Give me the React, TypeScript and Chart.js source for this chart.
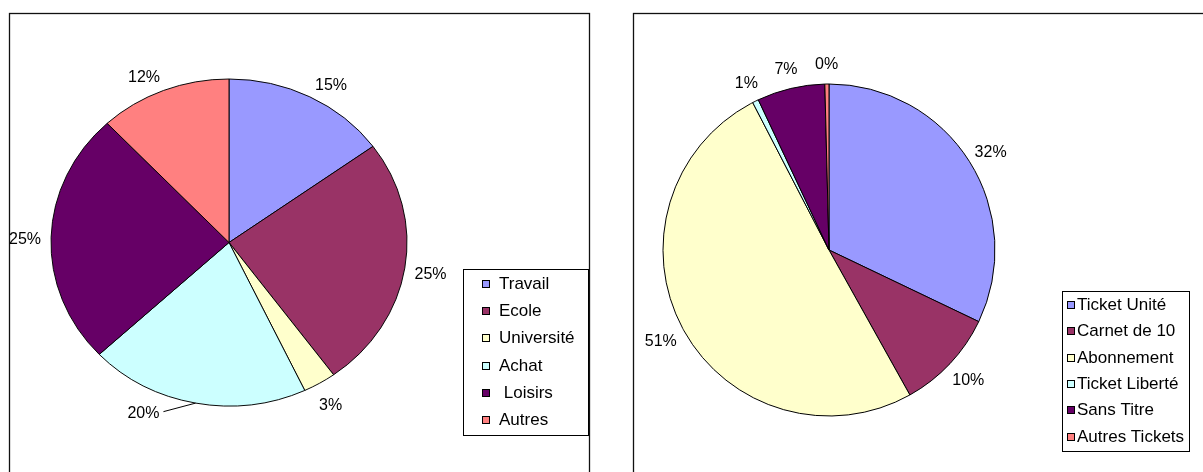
import React, { useEffect, useRef } from 'react';
import { Chart, ArcElement, PieController } from 'chart.js';

Chart.register(ArcElement, PieController);

// ---- data ----
const purposeLabels = ['Travail', 'Ecole', 'Université', 'Achat', ' Loisirs', 'Autres'];
const purposeValues = [15, 25, 3, 20, 25, 12];

const ticketLabels = ['Ticket Unité', 'Carnet de 10', 'Abonnement', 'Ticket Liberté', 'Sans Titre', 'Autres Tickets'];
const ticketValues = [32.1, 9.8, 50.5, 0.6, 6.6, 0.4];

const palette = ['#9999FF', '#993366', '#FFFFCC', '#CCFFFF', '#660066', '#FF8080'];

const LABEL_SIZE = 16;
const LEGEND_SIZE = 17;
const fontOf = (s: number) => `${s}px "Liberation Sans", Arial, sans-serif`;

const excelPie = {
  id: 'excelPie',
  beforeDraw(chart: any, _args: any, opts: any) {
    const ctx = chart.ctx;
    ctx.save();
    ctx.fillStyle = '#ffffff';
    ctx.fillRect(0, 0, chart.width, chart.height);
    ctx.strokeStyle = '#111111';
    ctx.lineWidth = 1.3;
    const f = opts.frame;
    ctx.strokeRect(f.x, f.y, f.w, f.h);
    ctx.restore();
  },
  beforeDatasetsDraw(chart: any, _args: any, opts: any) {
    const ctx = chart.ctx;
    const arc = chart.getDatasetMeta(0).data[0];
    ctx.save();
    if (arc && opts.squash !== 1) {
      ctx.translate(arc.x, arc.y);
      ctx.scale(1, opts.squash);
      ctx.translate(-arc.x, -arc.y);
    }
  },
  afterDatasetsDraw(chart: any, _args: any, opts: any) {
    const ctx = chart.ctx;
    ctx.restore();
    const meta = chart.getDatasetMeta(0);
    const values: number[] = chart.data.datasets[0].data;
    const total = values.reduce((a, b) => a + b, 0);
    const capH = LABEL_SIZE * 0.716;
    ctx.save();
    ctx.font = fontOf(LABEL_SIZE);
    ctx.fillStyle = '#000000';
    ctx.strokeStyle = '#000000';
    ctx.lineWidth = 1;
    ctx.textAlign = 'center';
    ctx.textBaseline = 'alphabetic';
    meta.data.forEach((el: any, i: number) => {
      const p = el.getProps(['x', 'y', 'startAngle', 'endAngle', 'outerRadius'], true);
      const rx = p.outerRadius;
      const ry = p.outerRadius * opts.squash;
      const mid = (p.startAngle + p.endAngle) / 2;
      const shift = opts.moved && opts.moved[i] !== undefined ? (opts.moved[i] * Math.PI) / 180 : 0;
      const a = mid + shift;
      const dx = Math.cos(a);
      const dy = Math.sin(a);
      const text = Math.round((values[i] / total) * 100) + '%';
      const w = ctx.measureText(text).width;
      const lx = p.x + (rx + opts.gapX) * dx + (dx * w) / 2;
      const ly = p.y + (ry + opts.gapY) * dy + (dy * (capH + 2)) / 2 + opts.dropY;
      ctx.fillText(text, lx, ly + capH / 2);
      if (opts.leader && opts.leader[i]) {
        ctx.beginPath();
        ctx.moveTo(lx + w / 2 + 4, ly - 1);
        ctx.lineTo(p.x + rx * Math.cos(mid), p.y + ry * Math.sin(mid));
        ctx.stroke();
      }
    });

    // legend
    const L = opts.legend;
    const labels: string[] = chart.data.labels;
    const colors: string[] = chart.data.datasets[0].backgroundColor;
    const lcap = LEGEND_SIZE * 0.716;
    ctx.font = fontOf(LEGEND_SIZE);
    ctx.lineWidth = 1;
    ctx.strokeRect(L.x + 0.5, L.y + 0.5, L.w, L.h);
    ctx.textAlign = 'left';
    labels.forEach((lab, i) => {
      const cy = L.firstY + i * L.step;
      const mx = Math.round(L.markerX);
      const my = Math.round(cy - L.marker / 2);
      ctx.fillStyle = colors[i];
      ctx.fillRect(mx, my, L.marker, L.marker);
      ctx.strokeStyle = '#000000';
      ctx.strokeRect(mx + 0.5, my + 0.5, L.marker - 1, L.marker - 1);
      ctx.fillStyle = '#000000';
      ctx.fillText(lab, L.textX, cy + lcap / 2 - 1);
    });
    ctx.restore();
  },
};

function PieBox(props: {
  labels: string[];
  values: number[];
  width: number;
  left: number;
  padding: { left: number; right: number; top: number; bottom: number };
  plugin: any;
}) {
  const ref = useRef<HTMLCanvasElement | null>(null);
  useEffect(() => {
    if (!ref.current) return;
    const chart = new Chart(ref.current, {
      type: 'pie',
      data: {
        labels: props.labels,
        datasets: [
          {
            data: props.values,
            backgroundColor: palette,
            borderColor: '#000000',
            borderWidth: 1,
          },
        ],
      },
      options: {
        responsive: false,
        animation: false,
        layout: { padding: props.padding },
        plugins: {
          legend: { display: false },
          tooltip: { enabled: false },
          excelPie: props.plugin,
        } as any,
      },
      plugins: [excelPie],
    });
    return () => chart.destroy();
  }, []);
  return (
    <canvas
      ref={ref}
      width={props.width}
      height={472}
      style={{ position: 'absolute', left: props.left, top: 0, width: props.width, height: 472, display: 'block' }}
    />
  );
}

export default function App() {
  return (
    <div style={{ position: 'fixed', left: 0, top: 0, width: 1203, height: 472, background: '#fff', overflow: 'hidden' }}>
      <PieBox
        labels={purposeLabels}
        values={purposeValues}
        width={611}
        left={0}
        padding={{ left: 50.5, right: 203.5, top: 64, bottom: 51 }}
        plugin={{
          frame: { x: 9.5, y: 13.5, w: 580, h: 480 },
          squash: 163.5 / 178,
          gapX: 10,
          gapY: 15,
          dropY: 2,
          moved: { 0: 3, 3: 14, 5: -3 },
          leader: { 3: true },
          legend: { x: 463, y: 269, w: 125, h: 166, markerX: 482, textX: 499, firstY: 283.8, step: 27.3, marker: 8 },
        }}
      />
      <PieBox
        labels={ticketLabels}
        values={ticketValues}
        width={592}
        left={611}
        padding={{ left: 51.5, right: 207.5, top: 83.5, bottom: 55.5 }}
        plugin={{
          frame: { x: 22.5, y: 13.5, w: 600, h: 480 },
          squash: 1,
          gapX: 9,
          gapY: 15,
          dropY: 1,
          legend: { x: 451, y: 291, w: 127, h: 160, markerX: 455.5, textX: 466, firstY: 304.8, step: 26.4, marker: 8 },
        }}
      />
    </div>
  );
}
